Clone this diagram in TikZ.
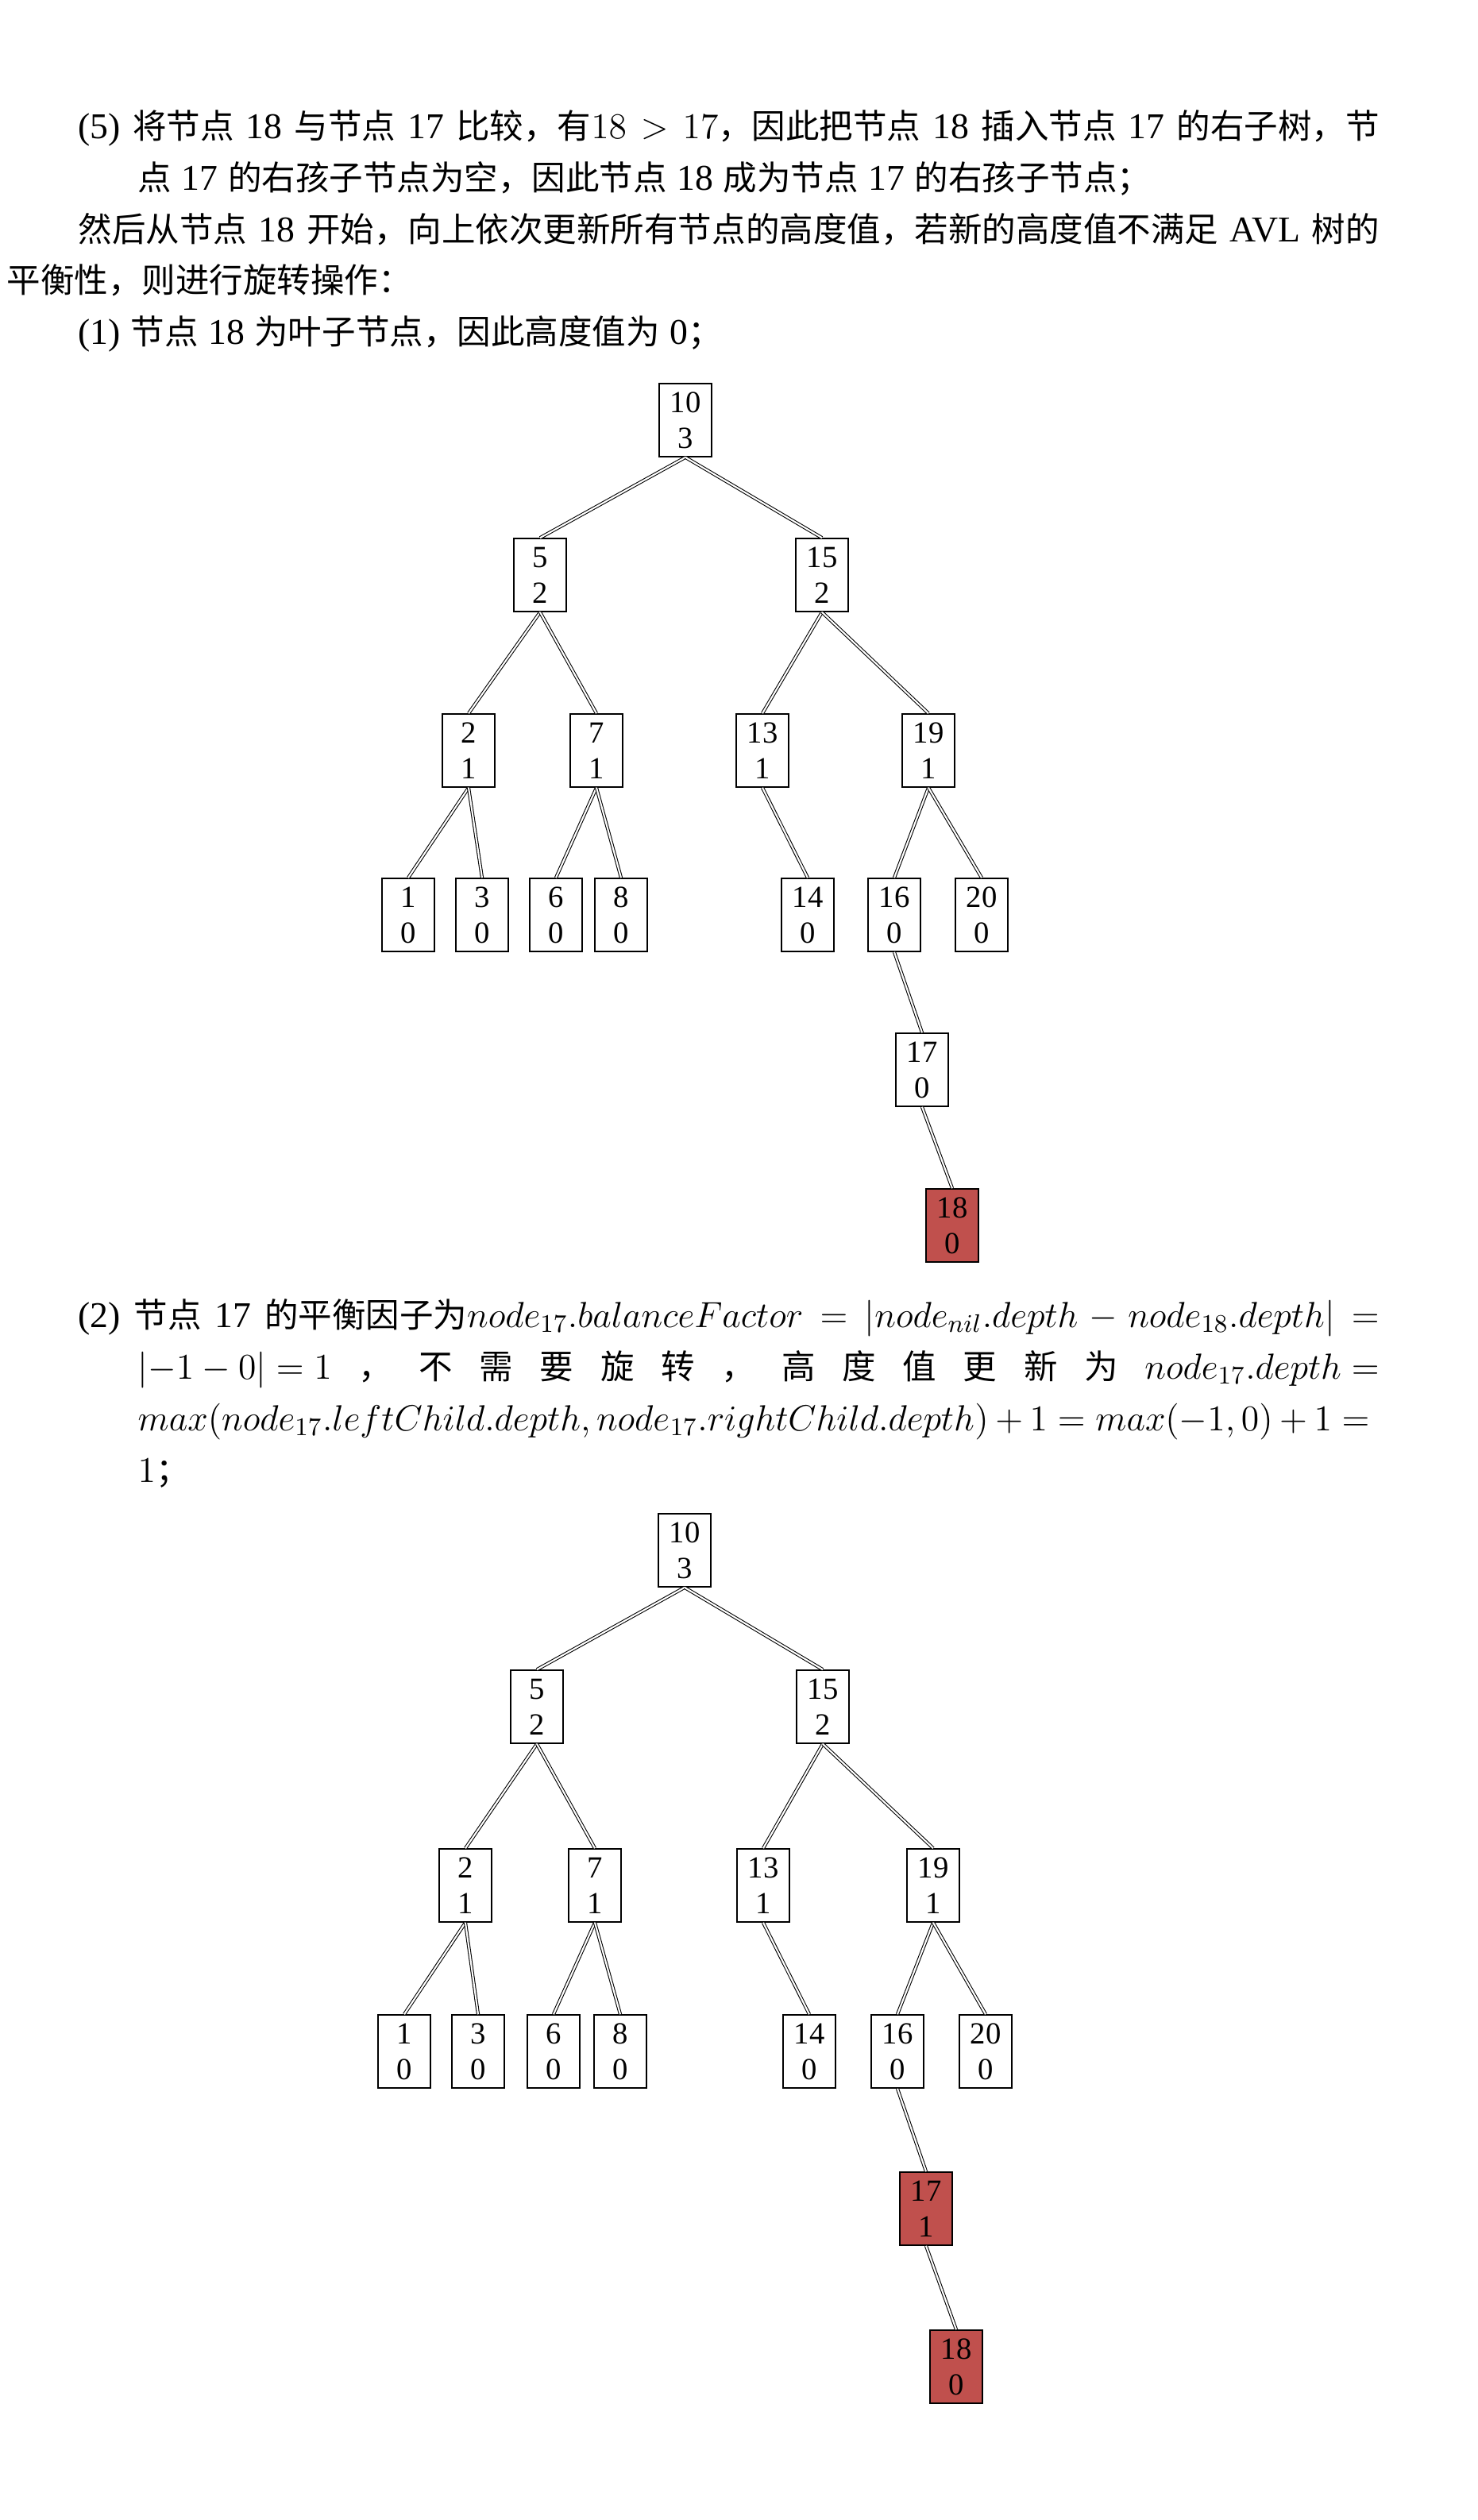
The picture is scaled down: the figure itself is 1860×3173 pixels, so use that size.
\documentclass[tikz,border=0pt]{standalone}
\usepackage{fix-cm}
\usepackage{fontspec}
\setmainfont[WordSpace=1.1]{Liberation Serif}
\newfontfamily\zh[Scale=0.93]{Noto Sans CJK SC}
\definecolor{hotred}{HTML}{C0504D}
\tikzset{
  tn/.style={draw=black, line width=0.45pt, fill=white, minimum width=0.66cm,
    minimum height=0.92cm, inner sep=0pt, align=center,
    font=\fontsize{11}{12.8}\selectfont},
  hot/.style={tn, fill=hotred},
  link/.style={draw=black, line width=0.3pt, double=white, double distance=0.6pt},
  para/.style={anchor=base west, inner sep=0pt, font=\fontsize{13}{16}\selectfont},
}
\begin{document}
\begin{tikzpicture}[x=0.01cm, y=-0.01cm]
\fill[white] (0,0) rectangle (1860,3173);

% ---- step (5) text ----
\node[para] (l1) at (98,175) {\makebox[16.37cm][s]{(5) {\zh 将节点} 18 {\zh 与节点} 17 {\zh 比较，有}$18>17${\zh ，因此把节点} 18 {\zh 插入节点} 17 {\zh 的右子树，节}}};
\node[para] (l2) at (173,240) {{\zh 点} 17 {\zh 的右孩子节点为空，因此节点} 18 {\zh 成为节点} 17 {\zh 的右孩子节点；}};
\node[para] (l3) at (98,305) {\makebox[16.37cm][s]{{\zh 然后从节点} 18 {\zh 开始，向上依次更新所有节点的高度值，若新的高度值不满足} AVL {\zh 树的}}};
\node[para] (l4) at (8,369) {{\zh 平衡性，则进行旋转操作：}};
\node[para] (l5) at (98,434) {(1) {\zh 节点} 18 {\zh 为叶子节点，因此高度值为} 0{\zh ；}};

% ---- first tree ----
\node[tn] (a10) at (863,529) {10\\3};
\node[tn] (a5)  at (680,724) {5\\2};
\node[tn] (a15) at (1035,724) {15\\2};
\node[tn] (a2)  at (590,945) {2\\1};
\node[tn] (a7)  at (751,945) {7\\1};
\node[tn] (a13) at (960,945) {13\\1};
\node[tn] (a19) at (1169,945) {19\\1};
\node[tn] (a1)  at (514,1152) {1\\0};
\node[tn] (a3)  at (607,1152) {3\\0};
\node[tn] (a6)  at (700,1152) {6\\0};
\node[tn] (a8)  at (782,1152) {8\\0};
\node[tn] (a14) at (1017,1152) {14\\0};
\node[tn] (a16) at (1126,1152) {16\\0};
\node[tn] (a20) at (1236,1152) {20\\0};
\node[tn] (a17) at (1161,1347) {17\\0};
\node[hot] (a18) at (1199,1543) {18\\0};
\foreach \p/\c in {a10/a5, a10/a15, a5/a2, a5/a7, a15/a13, a15/a19,
  a2/a1, a2/a3, a7/a6, a7/a8, a13/a14, a19/a16, a19/a20, a16/a17, a17/a18}
  \draw[link] (\p.south) -- (\c.north);

% ---- step (2) text ----
\node[para] (m1) at (98,1671) {\makebox[16.37cm][s]{(2) {\zh 节点} 17 {\zh 的平衡因子为}$node_{17}.balanceFactor=|node_{nil}.depth-node_{18}.depth|=$}};
\node[para] (m2) at (173,1736) {\makebox[15.62cm][s]{\mbox{$|{-1}-0|=1$} {\zh ，} {\zh 不} {\zh 需} {\zh 要} {\zh 旋} {\zh 转} {\zh ，} {\zh 高} {\zh 度} {\zh 值} {\zh 更} {\zh 新} {\zh 为} \mbox{$node_{17}.depth=$}}};
\node[para] (m3) at (173,1801) {\makebox[15.5cm][s]{$max(node_{17}.leftChild.depth,node_{17}.rightChild.depth)+1=max(-1,0)+1=$}};
\node[para] (m4) at (173,1866) {$1${\zh ；}};

% ---- second tree ----
\node[tn] (b10) at (862,1952) {10\\3};
\node[tn] (b5)  at (676,2149) {5\\2};
\node[tn] (b15) at (1036,2149) {15\\2};
\node[tn] (b2)  at (586,2374) {2\\1};
\node[tn] (b7)  at (749,2374) {7\\1};
\node[tn] (b13) at (961,2374) {13\\1};
\node[tn] (b19) at (1175,2374) {19\\1};
\node[tn] (b1)  at (509,2583) {1\\0};
\node[tn] (b3)  at (602,2583) {3\\0};
\node[tn] (b6)  at (697,2583) {6\\0};
\node[tn] (b8)  at (781,2583) {8\\0};
\node[tn] (b14) at (1019,2583) {14\\0};
\node[tn] (b16) at (1130,2583) {16\\0};
\node[tn] (b20) at (1241,2583) {20\\0};
\node[hot] (b17) at (1166,2781) {17\\1};
\node[hot] (b18) at (1204,2980) {18\\0};
\foreach \p/\c in {b10/b5, b10/b15, b5/b2, b5/b7, b15/b13, b15/b19,
  b2/b1, b2/b3, b7/b6, b7/b8, b13/b14, b19/b16, b19/b20, b16/b17, b17/b18}
  \draw[link] (\p.south) -- (\c.north);
\end{tikzpicture}
\end{document}
